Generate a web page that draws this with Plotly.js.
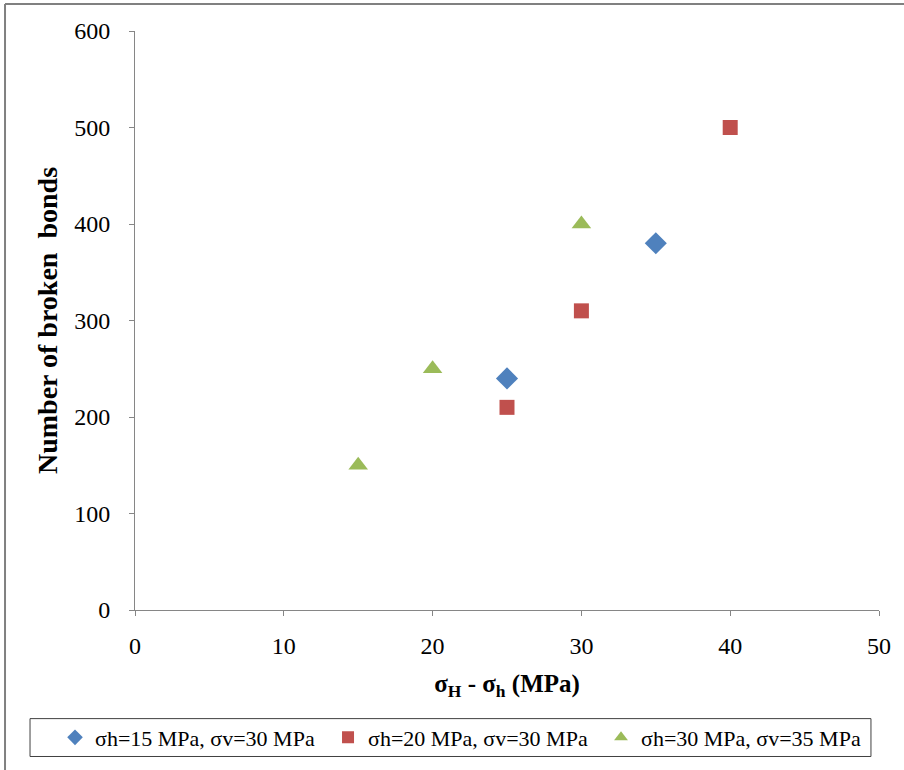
<!DOCTYPE html>
<html>
<head>
<meta charset="utf-8">
<script src="https://cdn.plot.ly/plotly-3.0.1.min.js"></script>
<style>
  html, body { margin: 0; padding: 0; background: #fff; }
  #chart { width: 904px; height: 770px; }
</style>
</head>
<body>
<div id="chart"></div>
<script>
const seriesNames = [
  "σh=15 MPa, σv=30 MPa",
  "σh=20 MPa, σv=30 MPa",
  "σh=30 MPa, σv=35 MPa"
];
const x1 = [25, 35];
const y1 = [240, 380];
const x2 = [25, 30, 40];
const y2 = [210, 310, 500];
const x3 = [15, 20, 30];
const y3 = [150, 250, 400];
const xTicks = [0, 10, 20, 30, 40, 50];
const yTicks = [0, 100, 200, 300, 400, 500, 600];

const font = "Liberation Serif, Times New Roman, serif";

const traces = [
  { x: x1, y: y1, name: seriesNames[0], type: "scatter", mode: "markers",
    marker: { symbol: "diamond", size: 17, color: "#4F81BD" } },
  { x: x2, y: y2, name: seriesNames[1], type: "scatter", mode: "markers",
    marker: { symbol: "square", size: 15, color: "#C0504D" } },
  { x: x3, y: y3, name: seriesNames[2], type: "scatter", mode: "markers",
    marker: { symbol: "triangle-up", size: 17, color: "#9BBB59" } }
];

const layout = {
  width: 904, height: 770,
  paper_bgcolor: "#fff", plot_bgcolor: "#fff",
  margin: { l: 135, r: 25, t: 31, b: 158 },
  font: { family: font, size: 22, color: "#000" },
  showlegend: true,
  xaxis: {
    range: [0, 50], tickvals: xTicks, ticktext: xTicks.map(String),
    showgrid: false, zeroline: false,
    showline: true, linecolor: "#868686", linewidth: 1,
    ticks: "outside", ticklen: 5, tickcolor: "#868686",
    tickfont: { family: font, size: 24, color: "#000" },
    ticklabelstandoff: 9,
    title: { text: "<b>σ<sub>H</sub> - σ<sub>h</sub> (MPa)</b>", font: { family: font, size: 25, color: "#000" }, standoff: 16 }
  },
  yaxis: {
    range: [0, 600], tickvals: yTicks, ticktext: yTicks.map(String),
    showgrid: false, zeroline: false,
    showline: true, linecolor: "#868686", linewidth: 1,
    ticks: "outside", ticklen: 5, tickcolor: "#868686",
    tickfont: { family: font, size: 24, color: "#000" },
    ticklabelstandoff: 14,
    title: { text: "<b>Number of broken  bonds</b>", font: { family: font, size: 28, color: "#000" }, standoff: 8 }
  },
  legend: {
    orientation: "h",
    x: -0.1075, xanchor: "left",
    y: -0.2203, yanchor: "middle",
    borderwidth: 0,
    bgcolor: "rgba(0,0,0,0)",
    font: { family: font, size: 22, color: "#000" },
    itemsizing: "constant",
    itemwidth: 30,
    entrywidth: 228,
    entrywidthmode: "pixels",
    tracegroupgap: 0
  },
  shapes: [
    { type: "line", xref: "paper", yref: "paper", x0: -0.1747, x1: 1.1, y0: 1.0465, y1: 1.0465,
      line: { color: "#808080", width: 2 } },
    { type: "line", xref: "paper", yref: "paper", x0: -0.1747, x1: -0.1747, y0: 1.0465, y1: -0.3,
      line: { color: "#808080", width: 2 } },
    { type: "rect", xref: "paper", yref: "paper", x0: -0.1411, x1: 0.9892, y0: -0.2530, y1: -0.1876,
      line: { color: "#404040", width: 1 }, fillcolor: "rgba(0,0,0,0)" }
  ]
};

Plotly.newPlot("chart", traces, layout, { displayModeBar: false, staticPlot: true });
</script>
</body>
</html>
